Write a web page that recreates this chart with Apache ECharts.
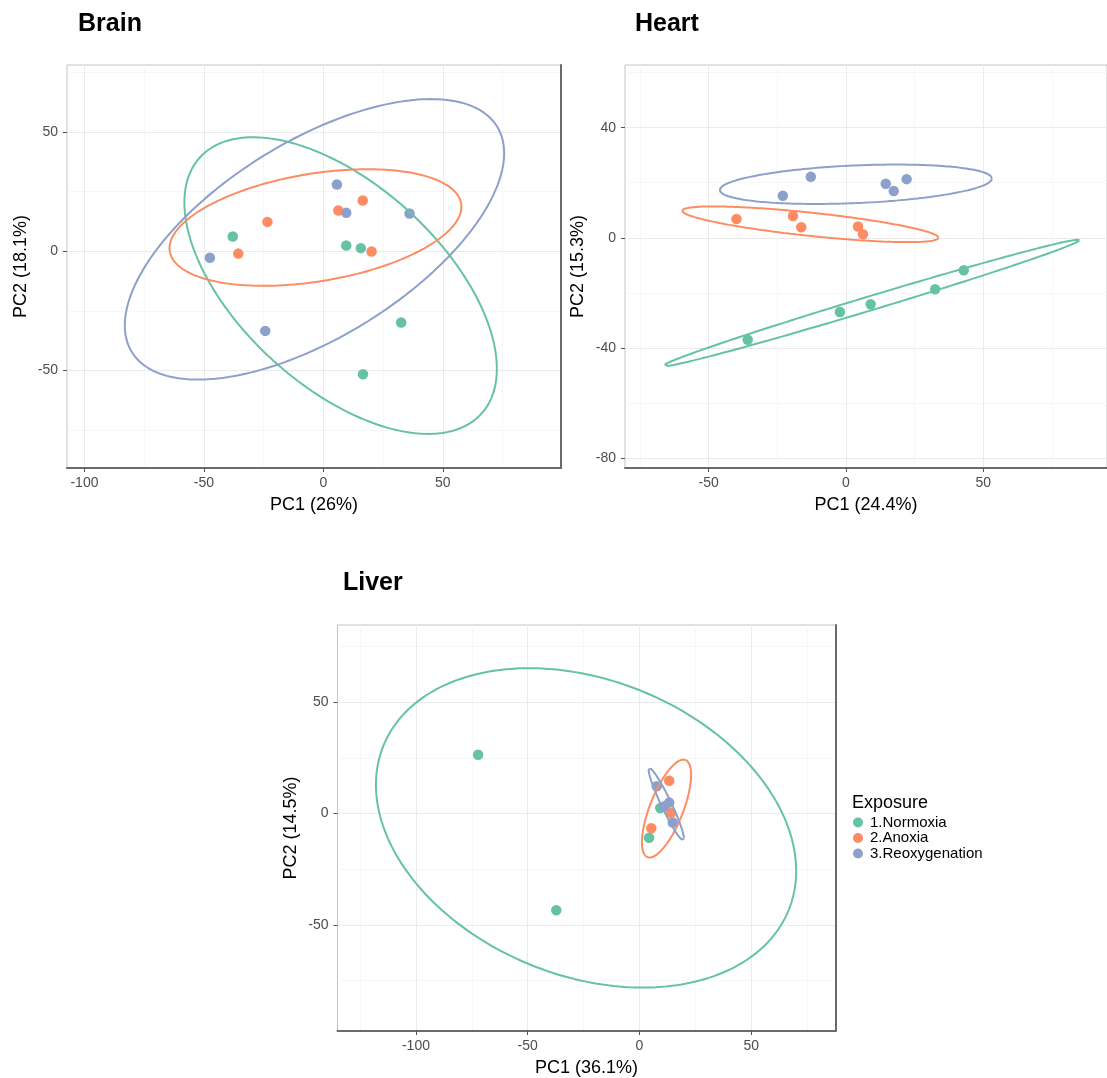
<!DOCTYPE html>
<html>
<head>
<meta charset="utf-8">
<script src="https://cdn.jsdelivr.net/npm/echarts@6/dist/echarts.min.js"></script>
<style>html,body{margin:0;padding:0;background:#fff}#c{width:1107px;height:1078px}</style>
</head>
<body>
<div id="c"></div>
<script>
// ---------- data ----------
const groups = ['1.Normoxia', '2.Anoxia', '3.Reoxygenation'];
const colors = ['#66c2a5', '#fc8d62', '#8da0cb'];

// Brain PCA scores [PC1, PC2]
const brainNormoxia = [[-37.9, 6.2], [9.6, 2.4], [15.7, 1.3], [32.6, -29.9], [16.6, -51.6]];
const brainAnoxia = [[-23.4, 12.3], [-35.6, -1.0], [6.3, 17.1], [16.5, 21.3], [20.2, -0.1]];
const brainReoxy = [[5.7, 28.0], [9.6, 16.1], [36.1, 15.8], [-47.5, -2.7], [-24.3, -33.4]];

// Heart PCA scores
const heartNormoxia = [[-35.8, -37.1], [-2.2, -27.0], [9.0, -24.2], [32.5, -18.7], [42.9, -11.8]];
const heartAnoxia = [[-39.9, 6.8], [-19.3, 7.9], [-16.3, 3.8], [4.4, 4.1], [6.2, 1.3]];
const heartReoxy = [[-12.8, 22.2], [-23.0, 15.3], [14.5, 19.6], [17.4, 17.0], [22.1, 21.3]];

// Liver PCA scores
const liverNormoxia = [[-72.2, 26.4], [-37.2, -43.4], [4.3, -10.9], [9.3, 2.5]];
const liverAnoxia = [[13.3, 14.7], [5.3, -6.6], [14.1, 0.3]];
const liverReoxy = [[7.7, 12.2], [13.3, 4.9], [11.0, 3.2], [14.9, -4.0]];

// Ellipse outlines: [centreX, centreY, halfWidthX, halfHeightY, tilt]
const brainEllipses = [[7.25, -14.4, 65.4, 62.2, -0.56], [-3.3, 9.95, 61.1, 24.45, 0.356], [-3.7, 5.0, 79.4, 58.8, 0.614]];
const heartEllipses = [[9.25, -23.7, 75.85, 23.0, 0.9933], [-12.95, 4.9, 46.75, 6.48, -0.756], [3.6, 19.45, 49.6, 7.16, 0.293]];
const liverEllipses = [[-23.9, -6.45, 94, 71.65, -0.27], [12.1, 2.2, 11.0, 22.0, 0.69], [12.0, 4.2, 7.9, 16.2, -0.95]];

// Tick labels
const brainXTicks = [-100, -50, 0, 50];
const brainYTicks = [-50, 0, 50];
const heartXTicks = [-50, 0, 50];
const heartYTicks = [-80, -40, 0, 40];
const liverXTicks = [-100, -50, 0, 50];
const liverYTicks = [-50, 0, 50];
const brainXMinor = [-75, -25, 25, 75];
const brainYMinor = [-75, -25, 25, 75];
const heartXMinor = [-75, -25, 25, 75];
const heartYMinor = [-60, -20, 20, 60];
const liverXMinor = [-125, -75, -25, 25, 75];
const liverYMinor = [-75, -25, 25, 75];

// ---------- build ----------
function ellipsePts(p) {
  const [cx, cy, W, H, r] = p;
  const s = Math.sqrt(1 - r * r);
  const out = [];
  for (let i = 0; i <= 240; i++) {
    const t = i / 240 * Math.PI * 2;
    out.push([cx + W * Math.cos(t), cy + H * (r * Math.cos(t) + s * Math.sin(t))]);
  }
  return out;
}

const FONT = 'Liberation Sans, Arial, sans-serif';
const panels = [
  {title: 'Brain', xname: 'PC1 (26%)', yname: 'PC2 (18.1%)', grid: {left: 67, top: 65, width: 494, height: 403},
   x: [-107.3, 99.5], y: [-90.9, 78.1], xt: brainXTicks, yt: brainYTicks, xm: brainXMinor, ym: brainYMinor,
   pts: [brainNormoxia, brainAnoxia, brainReoxy], ell: brainEllipses, tl: 78, tt: 12, yGap: 37, rightEdge: true},
  {title: 'Heart', xname: 'PC1 (24.4%)', yname: 'PC2 (15.3%)', grid: {left: 625, top: 65, width: 483, height: 403},
   x: [-80.5, 95.1], y: [-83.7, 62.8], xt: heartXTicks, yt: heartYTicks, xm: heartXMinor, ym: heartYMinor,
   pts: [heartNormoxia, heartAnoxia, heartReoxy], ell: heartEllipses, tl: 635, tt: 12, yGap: 38, rightEdge: false},
  {title: 'Liver', xname: 'PC1 (36.1%)', yname: 'PC2 (14.5%)', grid: {left: 337.5, top: 625, width: 498, height: 407},
   x: [-135.1, 87.7], y: [-97.6, 84.6], xt: liverXTicks, yt: liverYTicks, xm: liverXMinor, ym: liverYMinor,
   pts: [liverNormoxia, liverAnoxia, liverReoxy], ell: liverEllipses, tl: 343, tt: 571, yGap: 37, rightEdge: true}
];

const option = {
  animation: false,
  backgroundColor: '#fff',
  textStyle: {fontFamily: FONT},
  title: [],
  grid: [], xAxis: [], yAxis: [], series: [],
  legend: {
    orient: 'vertical', left: 853, top: 815, padding: 0, itemWidth: 10, itemHeight: 10, itemGap: 0.5,
    icon: 'circle', data: groups, textStyle: {fontSize: 15, color: '#000', fontFamily: FONT, padding: [0, 0, 0, 2]},
    selectedMode: false
  }
};

option.title.push({text: 'Exposure', left: 852, top: 794, padding: 0, textStyle: {fontSize: 18, fontWeight: 'normal', color: '#000', fontFamily: FONT}});

panels.forEach((p, gi) => {
  option.title.push({text: p.title, left: p.tl, top: p.tt, padding: 0, textStyle: {fontSize: 25, fontWeight: 'bold', color: '#000', fontFamily: FONT}});
  option.grid.push(Object.assign({show: true, borderColor: '#c4c4c4', borderWidth: 1, backgroundColor: '#fff'}, p.grid));
  option.xAxis.push({
    type: 'value', gridIndex: gi, min: p.x[0], max: p.x[1], position: 'bottom',
    name: p.xname, nameLocation: 'middle', nameGap: 28,
    nameTextStyle: {fontSize: 18, color: '#000', fontFamily: FONT},
    axisLine: {show: true, onZero: false, lineStyle: {color: '#6a6a6a', width: 2}},
    axisTick: {show: true, length: 4, customValues: p.xt, lineStyle: {color: '#555'}},
    axisLabel: {customValues: p.xt, fontSize: 14, color: '#4d4d4d', margin: 8, fontFamily: FONT},
    splitLine: {show: false}
  });
  option.yAxis.push({
    type: 'value', gridIndex: gi, min: p.y[0], max: p.y[1], position: 'left',
    name: p.yname, nameLocation: 'middle', nameGap: p.yGap, nameRotate: 90,
    nameTextStyle: {fontSize: 18, color: '#000', fontFamily: FONT},
    axisLine: {show: false, onZero: false},
    axisTick: {show: true, length: 4, customValues: p.yt, lineStyle: {color: '#555'}},
    axisLabel: {customValues: p.yt, fontSize: 14, color: '#4d4d4d', margin: 9, fontFamily: FONT},
    splitLine: {show: false}
  });
  // right-side border axis
  option.yAxis.push({
    type: 'value', gridIndex: gi, min: p.y[0], max: p.y[1], position: 'right',
    axisLine: {show: p.rightEdge, onZero: false, lineStyle: {color: '#6a6a6a', width: 2}},
    axisTick: {show: false}, axisLabel: {show: false}, splitLine: {show: false}
  });
  const yIdx = gi * 2;
  const major = {color: '#ebebeb', width: 1, type: 'solid'};
  const minor = {color: '#f4f4f4', width: 0.7, type: 'solid'};
  const mdata = [];
  p.xm.forEach(v => mdata.push({xAxis: v, lineStyle: minor}));
  p.ym.forEach(v => mdata.push({yAxis: v, lineStyle: minor}));
  p.xt.forEach(v => mdata.push({xAxis: v, lineStyle: major}));
  p.yt.forEach(v => mdata.push({yAxis: v, lineStyle: major}));
  option.series.push({
    type: 'scatter', name: 'grid' + gi, xAxisIndex: gi, yAxisIndex: yIdx, data: [], z: 0, silent: true,
    markLine: {z: 0, silent: true, symbol: ['none', 'none'], label: {show: false}, animation: false, data: mdata}
  });
  p.pts.forEach((d, k) => {
    option.series.push({
      type: 'scatter', name: groups[k], xAxisIndex: gi, yAxisIndex: yIdx, data: d, z: 3,
      symbolSize: 10.5, itemStyle: {color: colors[k], opacity: 1}
    });
  });
  p.ell.forEach((e, k) => {
    option.series.push({
      type: 'line', name: 'ellipse' + gi + '_' + k, xAxisIndex: gi, yAxisIndex: yIdx, data: ellipsePts(e), z: 4,
      showSymbol: false, symbol: 'none', smooth: false, silent: true,
      lineStyle: {color: colors[k], width: 2}
    });
  });
});

const chart = echarts.init(document.getElementById('c'), null, {renderer: 'canvas'});
chart.setOption(option);
</script>
</body>
</html>
